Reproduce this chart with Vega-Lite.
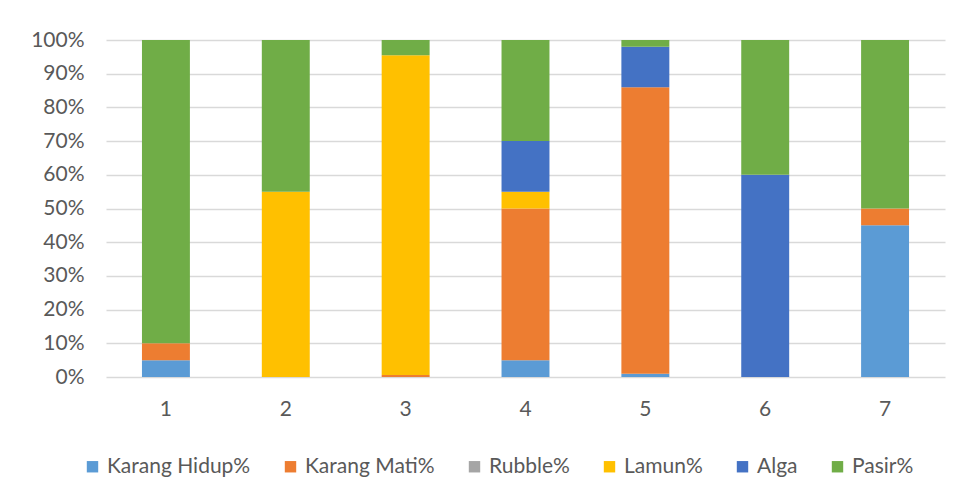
{
  "$schema": "https://vega.github.io/schema/vega-lite/v6.json",
  "width": 839,
  "height": 337,
  "autosize": {"type": "none"},
  "padding": {"left": 106, "top": 40, "right": 20, "bottom": 126},
  "background": "white",
  "data": {
    "values": [
      {"site": "1", "cat": "Karang Hidup%", "k": 1, "v": 0.05},
      {"site": "1", "cat": "Karang Mati%", "k": 2, "v": 0.05},
      {"site": "1", "cat": "Rubble%", "k": 3, "v": 0},
      {"site": "1", "cat": "Lamun%", "k": 4, "v": 0},
      {"site": "1", "cat": "Alga", "k": 5, "v": 0},
      {"site": "1", "cat": "Pasir%", "k": 6, "v": 0.90},
      {"site": "2", "cat": "Karang Hidup%", "k": 1, "v": 0},
      {"site": "2", "cat": "Karang Mati%", "k": 2, "v": 0},
      {"site": "2", "cat": "Rubble%", "k": 3, "v": 0},
      {"site": "2", "cat": "Lamun%", "k": 4, "v": 0.55},
      {"site": "2", "cat": "Alga", "k": 5, "v": 0},
      {"site": "2", "cat": "Pasir%", "k": 6, "v": 0.45},
      {"site": "3", "cat": "Karang Hidup%", "k": 1, "v": 0},
      {"site": "3", "cat": "Karang Mati%", "k": 2, "v": 0.006},
      {"site": "3", "cat": "Rubble%", "k": 3, "v": 0},
      {"site": "3", "cat": "Lamun%", "k": 4, "v": 0.949},
      {"site": "3", "cat": "Alga", "k": 5, "v": 0},
      {"site": "3", "cat": "Pasir%", "k": 6, "v": 0.045},
      {"site": "4", "cat": "Karang Hidup%", "k": 1, "v": 0.05},
      {"site": "4", "cat": "Karang Mati%", "k": 2, "v": 0.45},
      {"site": "4", "cat": "Rubble%", "k": 3, "v": 0},
      {"site": "4", "cat": "Lamun%", "k": 4, "v": 0.05},
      {"site": "4", "cat": "Alga", "k": 5, "v": 0.15},
      {"site": "4", "cat": "Pasir%", "k": 6, "v": 0.30},
      {"site": "5", "cat": "Karang Hidup%", "k": 1, "v": 0.01},
      {"site": "5", "cat": "Karang Mati%", "k": 2, "v": 0.85},
      {"site": "5", "cat": "Rubble%", "k": 3, "v": 0},
      {"site": "5", "cat": "Lamun%", "k": 4, "v": 0},
      {"site": "5", "cat": "Alga", "k": 5, "v": 0.12},
      {"site": "5", "cat": "Pasir%", "k": 6, "v": 0.02},
      {"site": "6", "cat": "Karang Hidup%", "k": 1, "v": 0},
      {"site": "6", "cat": "Karang Mati%", "k": 2, "v": 0},
      {"site": "6", "cat": "Rubble%", "k": 3, "v": 0},
      {"site": "6", "cat": "Lamun%", "k": 4, "v": 0},
      {"site": "6", "cat": "Alga", "k": 5, "v": 0.60},
      {"site": "6", "cat": "Pasir%", "k": 6, "v": 0.40},
      {"site": "7", "cat": "Karang Hidup%", "k": 1, "v": 0.45},
      {"site": "7", "cat": "Karang Mati%", "k": 2, "v": 0.05},
      {"site": "7", "cat": "Rubble%", "k": 3, "v": 0},
      {"site": "7", "cat": "Lamun%", "k": 4, "v": 0},
      {"site": "7", "cat": "Alga", "k": 5, "v": 0},
      {"site": "7", "cat": "Pasir%", "k": 6, "v": 0.50}
    ]
  },
  "mark": {"type": "bar"},
  "encoding": {
    "x": {
      "field": "site",
      "type": "ordinal",
      "scale": {"paddingInner": 0.6, "paddingOuter": 0.3},
      "axis": {
        "title": null,
        "labelAngle": 0,
        "labelFont": "Lato",
        "labelFontSize": 21,
        "labelColor": "#595959",
        "labelPadding": 21,
        "ticks": false,
        "domain": false,
        "grid": false
      }
    },
    "y": {
      "field": "v",
      "type": "quantitative",
      "stack": "zero",
      "scale": {"domain": [0, 1], "nice": false},
      "axis": {
        "title": null,
        "format": ".0%",
        "values": [0, 0.1, 0.2, 0.3, 0.4, 0.5, 0.6, 0.7, 0.8, 0.9, 1],
        "labelFont": "Lato",
        "labelFontSize": 21,
        "labelColor": "#595959",
        "labelPadding": 22,
        "ticks": false,
        "domain": false,
        "grid": true,
        "gridColor": "#D9D9D9",
        "gridWidth": 1.3
      }
    },
    "color": {
      "field": "cat",
      "type": "nominal",
      "scale": {
        "domain": ["Karang Hidup%", "Karang Mati%", "Rubble%", "Lamun%", "Alga", "Pasir%"],
        "range": ["#5B9BD5", "#ED7D31", "#A5A5A5", "#FFC000", "#4472C4", "#70AD47"]
      },
      "legend": {
        "title": null,
        "orient": "none",
        "direction": "horizontal",
        "legendX": -24,
        "legendY": 416,
        "symbolType": "square",
        "symbolSize": 130,
        "symbolStrokeWidth": 0,
        "labelFont": "Lato",
        "labelFontSize": 21,
        "labelColor": "#595959",
        "labelOffset": 4,
        "columnPadding": 29,
        "values": ["Karang Hidup%", "Karang Mati%", "Rubble%", "Lamun%", "Alga", "Pasir%"]
      }
    },
    "order": {"field": "k", "type": "quantitative", "sort": "ascending"}
  },
  "config": {
    "view": {"stroke": null},
    "bar": {"stroke": null}
  }
}
